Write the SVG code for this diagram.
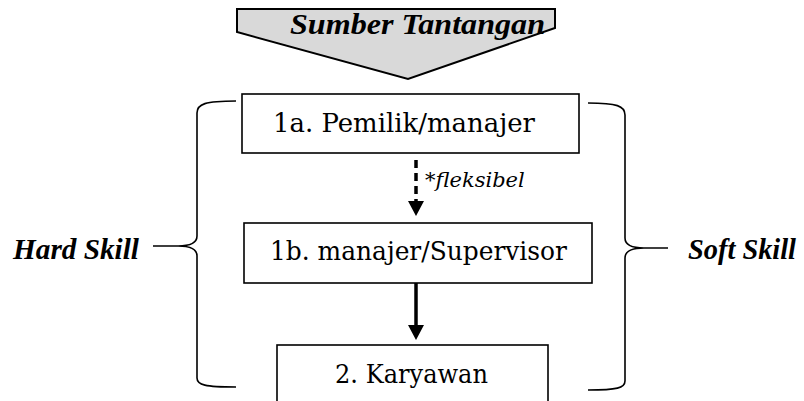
<svg xmlns="http://www.w3.org/2000/svg" width="804" height="401" viewBox="0 0 804 401">
<defs>
<style>
.box{fill:#fff;stroke:#000;stroke-width:1.6}
.t{font-family:"DejaVu Serif","Liberation Serif",serif;fill:#000}
.lbl{font-size:26px}
.bi{font-family:"Liberation Serif","DejaVu Serif",serif;font-weight:bold;font-style:italic;font-size:29px;fill:#000}
.brace{fill:none;stroke:#000;stroke-width:1.6}
.conn{stroke:#000;stroke-width:3.5;fill:none}
</style>
</defs>
<rect width="804" height="401" fill="#fff"/>
<g id="header">
<polygon points="237,9 555,9 555,28 408,79 237,32" fill="#d9d9d9" stroke="#000" stroke-width="2"/>
<text class="bi" x="290" y="34" textLength="255" lengthAdjust="spacingAndGlyphs">Sumber Tantangan</text>
</g>
<g id="node-1a">
<rect class="box" x="242" y="94" width="337" height="59"/>
<text class="t lbl" x="273" y="132" textLength="262" lengthAdjust="spacingAndGlyphs">1a. Pemilik/manajer</text>
</g>
<g id="node-1b">
<rect class="box" x="244" y="223" width="348" height="60"/>
<text class="t lbl" x="270" y="260" textLength="297" lengthAdjust="spacingAndGlyphs">1b. manajer/Supervisor</text>
</g>
<g id="node-2">
<rect class="box" x="277" y="345" width="271" height="70"/>
<text class="t lbl" x="335" y="383" textLength="153" lengthAdjust="spacingAndGlyphs">2. Karyawan</text>
</g>
<g id="hard-skill">
<path class="brace" d="M236,101 C205,101 197,104 197,113 L197,236 C197,243 190,246 178,246 L153,246 L178,246 C190,246 197,249 197,256 L197,378 C197,385 205,387 236,387"/>
<text class="bi" x="13" y="259" textLength="126" lengthAdjust="spacingAndGlyphs">Hard Skill</text>
</g>
<g id="soft-skill">
<path class="brace" d="M588,103 C617,103 625,106 625,115 L625,238 C625,245 632,248 644,248 L668,248 L644,248 C632,248 625,251 625,258 L625,381 C625,388 617,390 588,390"/>
<text class="bi" x="688" y="259" textLength="108" lengthAdjust="spacingAndGlyphs">Soft Skill</text>
</g>
<g id="connectors">
<line class="conn" x1="416" y1="160" x2="416" y2="203" stroke-dasharray="8,5"/>
<polygon points="408,201 424,201 416,216" fill="#000"/>
<text class="t" x="425" y="187" font-size="21"><tspan>*</tspan><tspan font-style="italic">fleksibel</tspan></text>
<line class="conn" x1="416" y1="283" x2="416" y2="326"/>
<polygon points="408,325 424,325 416,340" fill="#000"/>
</g>
</svg>
